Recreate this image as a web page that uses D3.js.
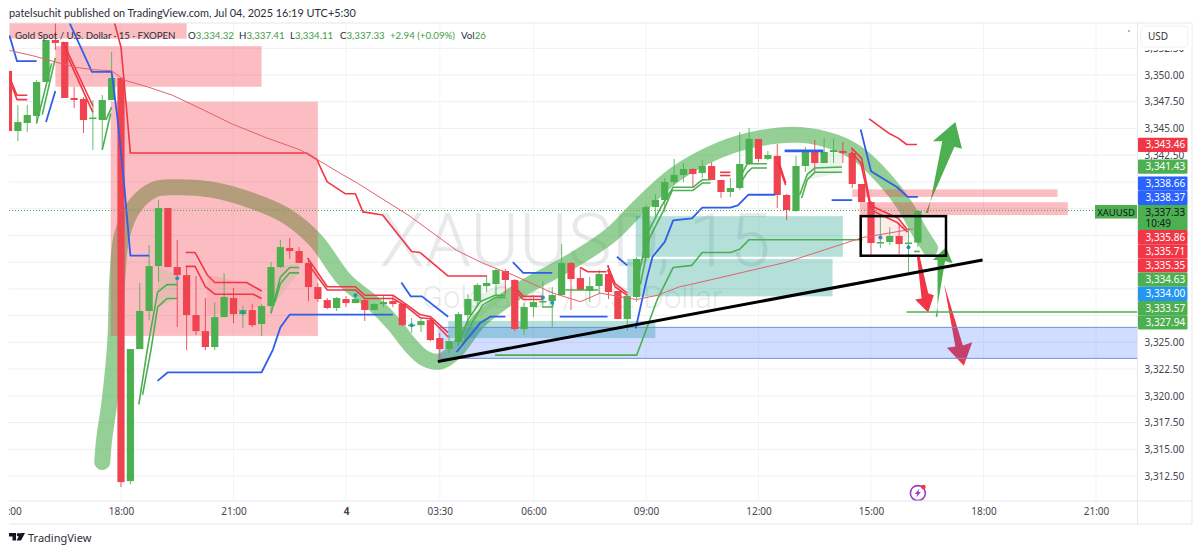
<!DOCTYPE html>
<html>
<head>
<meta charset="utf-8">
<script src="https://cdn.jsdelivr.net/npm/d3@7"></script>
<style>
  html, body { margin: 0; padding: 0; background: #fff; }
  svg { display: block; }
  text { font-family: "Noto Sans", sans-serif; }
</style>
</head>
<body>
<svg id="chart" width="1200" height="553"></svg>
<script>
// candles, bar -12 is the 15:00 bar of the day before, bar 0 is 18:00
const firstBar = -12;
const opens = [3350.38,3344.76,3345.51,3346.17,3349.35,3353.27,3353.09,3347.85,3347.76,3345.98,3345.79,3347.66,3349.72,3312.02,3324.37,3327.93,3332.13,3337.56,3332.04,3331.29,3327.55,3326.05,3324.56,3327.36,3329.14,3327.64,3328.02,3326.71,3328.39,3332.04,3333.82,3333.54,3332.42,3330.17,3328.95,3328.21,3329.05,3328.67,3328.95,3328.02,3328.58,3328.86,3328.58,3326.61,3326.61,3327.08,3325.4,3324.37,3325.03,3327.55,3328.86,3330.26,3330.45,3331.67,3330.83,3326.24,3328.3,3328.77,3328.86,3329.42,3332.42,3331.01,3329.8,3330.26,3331.39,3329.8,3327.18,3329.24,3332.88,3337.66,3338.31,3339.99,3340.65,3341.21,3340.84,3341.49,3340.18,3339.06,3339.43,3341.68,3344.02,3342.15,3342.43,3338.78,3337.28,3341.49,3342.8,3341.77,3342.8,3342.89,3342.7,3339.81,3338.12,3334.29,3334.38,3334.94,3334.29,3334.33];
const highs = [3350.38,3347.2,3347.2,3349.53,3353.27,3354.87,3353.09,3348.88,3347.94,3347.66,3348.13,3352.15,3349.72,3324.37,3330.55,3334.1,3338.31,3337.56,3334.57,3332.13,3331.2,3329.14,3328.77,3331.48,3330.08,3328.39,3328.58,3328.58,3332.51,3334.57,3334.76,3333.91,3332.88,3330.55,3329.14,3329.24,3329.33,3329.24,3329.14,3328.67,3329.42,3329.42,3328.67,3327.27,3327.36,3327.27,3325.87,3325.68,3327.83,3329.52,3330.55,3331.29,3331.95,3331.85,3330.92,3328.67,3329.42,3330.73,3330.17,3334.19,3332.51,3332.04,3331.11,3331.76,3332.23,3329.8,3329.52,3332.98,3337.84,3338.87,3340.37,3342.15,3341.77,3341.3,3342.05,3341.86,3340.18,3340.37,3344.67,3345.05,3344.02,3342.89,3343.55,3338.87,3342.43,3343.27,3343.92,3344.11,3344.02,3343.74,3343.17,3339.81,3338.21,3336.72,3335.78,3336.16,3335.69,3337.37];
const lows = [3344.76,3343.83,3344.67,3345.42,3349.35,3352.34,3347.85,3346.9,3344.58,3342.99,3342.99,3347.66,3311.46,3311.74,3324.37,3327.08,3330.64,3332.04,3326.43,3324.28,3325.68,3324.28,3324.28,3327.36,3326.8,3326.34,3326.43,3325.59,3327.74,3331.95,3332.79,3332.42,3328.86,3328.77,3328.11,3327.93,3328.3,3328.67,3326.99,3328.02,3328.3,3328.3,3326.52,3325.87,3325.96,3325.12,3323.53,3324.0,3324.93,3326.61,3328.3,3329.7,3329.42,3329.52,3326.05,3325.68,3327.36,3328.3,3326.43,3329.42,3328.02,3329.8,3328.77,3329.52,3329.05,3327.18,3326.05,3328.77,3332.88,3336.72,3337.19,3339.71,3339.99,3339.53,3340.37,3340.18,3338.5,3338.59,3339.25,3341.58,3341.86,3342.05,3337.56,3336.44,3337.19,3340.93,3340.84,3341.77,3341.77,3341.77,3339.43,3338.12,3333.16,3333.82,3334.1,3333.26,3331.57,3333.91];
const closes = [3344.76,3345.6,3346.26,3349.35,3353.27,3353.0,3347.85,3347.66,3345.79,3346.02,3347.66,3349.72,3311.93,3324.37,3327.93,3332.13,3337.56,3332.04,3331.29,3327.55,3326.05,3324.56,3327.36,3329.24,3327.64,3328.02,3326.61,3328.39,3332.04,3333.91,3333.54,3332.42,3330.17,3329.05,3328.21,3329.14,3328.67,3329.05,3328.02,3328.58,3328.77,3328.58,3326.61,3326.65,3326.99,3325.21,3324.37,3325.12,3327.64,3329.05,3330.36,3330.55,3331.76,3330.83,3326.24,3328.3,3328.77,3328.86,3329.42,3332.42,3330.92,3329.89,3330.26,3331.39,3329.7,3327.18,3329.33,3332.79,3337.66,3338.31,3339.99,3340.65,3341.21,3340.74,3341.49,3340.18,3339.06,3339.43,3341.68,3344.02,3342.15,3342.52,3338.78,3337.37,3341.49,3342.8,3341.77,3342.8,3342.98,3342.7,3339.81,3338.12,3334.29,3334.38,3334.94,3334.19,3334.33,3337.28];

const priceTicks = [3352.5,3350,3347.5,3345,3342.5,3340,3337.5,3335,3332.5,3330,3327.5,3325,3322.5,3320,3317.5,3315,3312.5];
// these tick labels sit behind the stack of price tags
const hiddenTicks = [3340,3337.5,3335,3332.5,3330,3327.5];
const timeTicks = [-12,0,12,24,34,44,56,68,80,92,104];
const timeLabels = ["15:00","18:00","21:00","4","03:30","06:00","09:00","12:00","15:00","18:00","21:00"];

// indicator lines as [bar, price]
const blueLines = [
  [[-11.9,3353.7],[-11.1,3351.3],[-9,3351.3]],
  [[-8,3345.6],[-7,3348.5]],
  [[-5.5,3354.9],[-3.1,3350.3],[-1,3350.3],[-.4,3346.1],[.2,3341.1],[1,3333.1],[3,3333.1]],
  [[3.9,3321.4],[5,3322.2],[15,3322.2],[16.2,3324.3],[17,3326.4],[18,3327.6],[29,3327.6]],
  [[29.9,3330.6],[30.9,3329.3],[32.1,3329.3],[34.9,3327.4]],
  [[35.8,3324.1],[38.3,3326.8],[39.4,3327.4],[41,3327.4]],
  [[41.8,3332.5],[42.9,3331.5],[46,3331.5]],
  [[46.8,3327.4],[51.9,3327.4]],
  [[52.9,3333],[54,3332.2]],
  [[54.9,3326.3],[56.1,3331],[56.7,3333],[58,3334.4],[58.9,3336.4],[60.9,3336.6],[62,3337.6],[65,3337.6],[65.8,3337.8],[66.9,3338.8],[69.8,3338.8]],
  [[70.8,3342.9],[74.9,3342.9]],
  [[75.8,3338.3],[78,3338.3]],
  [[78.9,3344.9],[80,3341],[82.8,3339.5],[83.9,3338.6],[85,3338.6]]
];
const redLines = [
  [[-11.9,3349.8],[-11.1,3348.1],[-10,3348.1]],
  [[-11.6,3348.9],[-11.1,3347.7],[-10,3347.7]],
  [[-6.2,3353.1],[-3,3347.1]],
  [[-5.8,3351.9],[-3,3346.5]],
  [[-.7,3354.9],[0,3352.6],[.3,3349.7],[1,3342.7],[19.8,3342.7],[20.9,3342.1],[21.4,3341.1],[22,3340],[23.9,3338.9],[25,3338.9],[25.8,3337.2],[27.9,3336.9],[31,3333.5],[31.9,3333.4],[34.9,3331.2],[39,3331.2]],
  [[6.9,3333.4],[7.9,3333.4],[9.2,3331.3],[10,3330.6],[13.4,3330.6],[15,3329.8]],
  [[6.9,3332.1],[7.9,3332.1],[9,3330.2],[10,3329.5],[14.1,3329.5],[15,3329.1]],
  [[19.9,3332.9],[22,3330.2],[25,3330.2],[26,3329.4],[29,3329.4],[30.5,3328.5],[31.9,3327.6],[33,3327.4],[34.9,3325.9]],
  [[19.9,3332.4],[22,3329.9],[25,3329.9],[26,3329.1],[29,3329.1],[30.5,3328.3],[31.9,3327.3],[33,3327.2],[34.9,3325.5]],
  [[42.3,3329.9],[42.9,3329.3],[45,3329.3]],
  [[42.3,3329.6],[42.9,3329],[45,3329]],
  [[49,3332],[49.8,3331.6],[51.8,3331.6]],
  [[51.9,3332.2],[52.7,3330.5],[54,3329.6]],
  [[51.9,3331.8],[52.7,3330.2],[54,3329.4]],
  [[63.9,3340.9],[65,3340.9]],
  [[63.9,3340.6],[65,3340.6]],
  [[70,3342.3],[70.9,3339.9]],
  [[70,3341.9],[70.9,3339.7]],
  [[77.9,3343.2],[79,3342.2],[79.9,3338.1],[80.4,3337.6],[82.9,3336.6],[83.9,3335.5]],
  [[77.9,3342.8],[78.9,3341.8],[79.9,3337.8],[80.4,3337.2],[82.8,3336.2],[83.9,3335.3]],
  [[79.8,3345.9],[82,3344.5],[82.9,3344.1],[83.8,3343.5],[84.9,3343.5]]
];
const greenLines = [
  [[-9,3345.5],[-7.4,3351.1]],
  [[-8.4,3346.3],[-7,3351.6]],
  [[-2,3343],[-1.1,3346.4]],
  [[-1.6,3345.8],[-1,3347]],
  [[1.9,3319.2],[2.8,3324.3],[3.9,3329.7],[4.9,3330.4],[6,3330.4]],
  [[2.3,3320.1],[3.2,3324.3],[3.9,3328.3],[4.9,3329.1],[6,3329.1]],
  [[16,3327.7],[17,3331.1],[18,3332],[19,3332]],
  [[16.4,3328.7],[17,3330.5],[18,3331.5],[19,3331.5]],
  [[35.9,3324.7],[37,3327.1],[38.3,3328.8],[39.9,3329.4],[41,3329.4]],
  [[36.4,3324.7],[37.4,3326.8],[38.6,3328.5],[39.9,3329.2],[41,3329.2]],
  [[47.4,3329.9],[50.9,3329.9]],
  [[44.9,3328.3],[46,3328.3],[46.1,3328.7]],
  [[55.4,3330.4],[56.4,3334.8],[57.8,3337.2],[58.8,3339.2],[61,3339.2],[62,3339.9],[62.9,3339.9]],
  [[55,3330.4],[56.2,3335.3],[57.7,3337.8],[58.9,3339.5],[61,3339.5],[62,3340.2],[62.9,3340.2]],
  [[65.8,3339.5],[66.8,3340.9],[67.3,3341.3],[68.9,3341.3]],
  [[66,3340.4],[66.8,3341.7],[68.9,3341.7]],
  [[72.4,3338.8],[73.2,3340.7],[74,3341.3],[76.9,3341.4]],
  [[72.6,3338.5],[73.2,3340.2],[74,3340.9],[76.9,3340.9]],
  [[84.6,3333.5],[85.2,3333.5]],
  [[39.9,3323.8],[55,3323.8],[55.9,3325.9],[57.2,3329],[58.9,3332],[60.9,3332.2],[62,3333.4],[65,3333.4],[66,3333.7],[67,3334.6],[79.1,3334.6]],
  [[83.8,3327.83],[108.4,3327.83]]
];
const thickLines = [10]; // the index of the short heavy blue line
const vwapLine = [[-11.9,3352.3],[-9.4,3351.8],[-6.5,3351.1],[-4.7,3350.7],[-3,3350.5],[-1,3350.4],[.4,3349.5],[2.8,3348.9],[5.5,3348.1],[8.4,3346.9],[11.9,3345.4],[15.6,3344.1],[19.1,3343],[20.9,3342.1],[23.4,3340.8],[25.2,3339.9],[30.8,3336.8],[35.8,3333.6],[38.6,3332.4],[41.8,3331.3],[46.1,3329.6],[49,3328.8],[51.1,3329.6],[55,3329],[57.2,3329.4],[59.6,3330.2],[60.7,3330.4],[71,3332.5],[79.1,3334.8],[84.5,3335.6]];
const signalDots = [[6,3331],[13,3327.8],[31,3326.6],[25,3329.4],[45,3329.2],[46,3328.7],[81,3334.8],[84,3333.9]];

// faint fill between the stop lines and the price, [bar, price a, price b]
const pinkTints = [
  [[79.9,3338.1,3334.3],[82.9,3336.6,3334.9],[83.9,3335.5,3334.3]],
  [[9.2,3331.3,3327.5],[13.4,3330.6,3328],[15,3329.8,3328.4]]
];
const greenTints = [
  [[3.9,3328.3,3332.1],[6,3329.1,3331.3]],
  [[73.2,3340.2,3342.8],[76.9,3340.9,3342.9]],
  [[37.4,3326.8,3329],[41,3329.2,3330.8]],
  [[16.4,3328.7,3332],[19,3331.5,3332.4]]
];

// zones as [bar from, bar to, price top, price bottom]
const pinkZones = [[-11.9,7,3354.9,3353.4],[-7,15,3352.7,3348.9],[-1.1,21,3347.5,3325.6],[78,99.9,3339.3,3338.6],[78.8,101,3338.1,3336.9]];
const tealZones = [[54.9,77,3336.8,3333],[54,75.9,3332.8,3329.3],[34.9,57,3327,3325.4]];
const blueZones = [[33.8,108.4,3326.4,3323.5]];

// hand drawn bits
const highlighter = [[-2,3313.8],[-1.8,3315.9],[-1.2,3319.6],[-.6,3325.2],[-.4,3330.8],[.1,3335],[1.5,3337.8],[3.6,3339.3],[5.8,3339.5],[9.5,3339.3],[13.8,3338.3],[17.5,3336.9],[20.7,3334.6],[23.9,3330.8],[27.1,3328.5],[29.2,3326.6],[30.8,3324.8],[32.4,3323.5],[34,3323.2],[35.6,3324.1],[38.3,3327.1],[42.6,3329.9],[47.9,3332.5],[52.2,3335],[55.4,3337.8],[59.1,3340.7],[63.9,3343],[68.2,3344.1],[72.4,3344.4],[76.2,3343.7],[78.8,3342.5],[81.5,3340.2],[83.6,3337.8],[85.2,3335.3],[86.3,3333.8]];
const arrowUpBig = [[85.8,3337.1],[86.1,3337.1],[87.6,3343.8],[86.6,3343.8],[89,3345.6],[89.7,3343.1],[88.9,3343.3]];
const arrowUpSmall = [[86.9,3327.4],[87.1,3327.4],[87.1,3332.7],[86.6,3332.7],[88,3333.9],[88.7,3332.4],[87.9,3332.6]];
const arrowDownSmall = [[84.9,3333],[85.2,3333],[86.1,3329.6],[86.7,3329.4],[86.1,3327.8],[84.7,3329],[85.4,3329.1]];
const arrowDownBig = [[87.8,3330.4],[89,3324.6],[88.1,3324.5],[89.9,3322.8],[90.8,3325],[89.8,3324.7]];
const trendLine = [[33.8,3323.2],[91.9,3332.7]];
const boxBars = [78.9,88];
const boxPrices = [3336.8,3333.1];

// right hand price tags
const lastPrice = 3337.33;
const tagValues = [3343.46,3341.43,3338.66,3338.37,3335.86,3335.71,3335.35,3334.63,3334.00,3333.57,3327.94];
const tagKinds = ["red","green","blue","blue","red","red","red","green","sky","green","green"];

const legendName = "Gold Spot / U.S. Dollar · 15 · FXOPEN";
const legendKeys = ["O","H","L","C"];
const legendVals = ["3,334.32","3,337.41","3,334.11","3,337.33"];

const GREEN = "#4caf50", RED = "#f23645";
const tagColor = {red: "#f23645", green: "#4caf50", blue: "#2962ff", sky: "#2196f3"};

const svg = d3.select("#chart");
const plotL = 9, plotR = 1137, plotT = 23, plotB = 501;

const x = d3.scaleLinear().domain([-12, 108]).range([8.5, 1133.5]);
const y = d3.scaleLinear().domain([3350, 3312.5]).range([75, 476]);
const fmt = d3.format(",.2f");

svg.append("defs").append("clipPath").attr("id", "plot")
  .append("rect").attr("x", plotL).attr("y", plotT).attr("width", plotR - plotL).attr("height", plotB - plotT);

const plot = svg.append("g").attr("clip-path", "url(#plot)");

// grid
plot.selectAll(".hgrid").data(priceTicks).join("line")
  .attr("x1", plotL).attr("x2", plotR).attr("y1", d => y(d)).attr("y2", d => y(d))
  .attr("stroke", "#eeeff2");
plot.selectAll(".vgrid").data(timeTicks).join("line")
  .attr("y1", plotT).attr("y2", plotB).attr("x1", d => x(d)).attr("x2", d => x(d))
  .attr("stroke", "#f3f4f6");

// watermark
plot.append("text").attr("x", 575).attr("y", 266).attr("text-anchor", "middle")
  .attr("font-size", 74).style("font-family", "Roboto").attr("font-weight", 300)
  .attr("fill", "#787b86").attr("fill-opacity", 0.17).text("XAUUSD, 15");
plot.append("text").attr("x", 572).attr("y", 308).attr("text-anchor", "middle")
  .attr("font-size", 31).style("font-family", "Roboto").attr("font-weight", 300)
  .attr("fill", "#787b86").attr("fill-opacity", 0.17).text("Gold Spot / U.S. Dollar");

const line = d3.line().x(d => x(d[0])).y(d => y(d[1]));

// these sit under the zones, the colours mix like in the original
const smooth = d3.line().x(d => x(d[0])).y(d => y(d[1])).curve(d3.curveCatmullRom);
plot.append("path").attr("d", smooth(highlighter))
  .attr("fill", "none").attr("stroke", GREEN).attr("stroke-opacity", 0.6)
  .attr("stroke-width", 16).attr("stroke-linecap", "round").attr("stroke-linejoin", "round");

const poly = pts => "M" + pts.map(d => x(d[0]) + "," + y(d[1])).join("L") + "Z";
plot.selectAll(".arrow").data([arrowUpBig, arrowUpSmall]).join("path")
  .attr("d", poly).attr("fill", GREEN);
plot.selectAll(".arrow2").data([arrowDownSmall, arrowDownBig]).join("path")
  .attr("d", poly).attr("fill", RED);

function drawZones(rows, color, alpha) {
  plot.append("g").selectAll("rect").data(rows).join("rect")
    .attr("x", d => x(d[0])).attr("width", d => x(d[1]) - x(d[0]))
    .attr("y", d => y(d[2])).attr("height", d => y(d[3]) - y(d[2]))
    .attr("fill", color).attr("fill-opacity", alpha);
}
drawZones(tealZones, "#089981", 0.3);
drawZones(blueZones, "#2962ff", 0.22);
drawZones(pinkZones, "#f23645", 0.33);

plot.append("g").selectAll("line").data(blueZones.flatMap(d => [[d[0], d[1], d[2]], [d[0], d[1], d[3]]])).join("line")
  .attr("x1", d => x(d[0])).attr("x2", d => x(d[1])).attr("y1", d => y(d[2])).attr("y2", d => y(d[2]))
  .attr("stroke", "#6f90dc").attr("stroke-width", 1);

const tint = d3.area().x(d => x(d[0])).y0(d => y(d[1])).y1(d => y(d[2]));
plot.append("g").selectAll("path").data(pinkTints).join("path")
  .attr("d", d => tint(d)).attr("fill", RED).attr("fill-opacity", 0.1);
plot.append("g").selectAll("path").data(greenTints).join("path")
  .attr("d", d => tint(d)).attr("fill", GREEN).attr("fill-opacity", 0.12);

// candles
const bars = opens.map((o, i) => ({bar: firstBar + i, o, h: highs[i], l: lows[i], c: closes[i]}));
const candle = plot.append("g").selectAll("g").data(bars).join("g");
candle.append("line")
  .attr("x1", d => x(d.bar)).attr("x2", d => x(d.bar))
  .attr("y1", d => y(d.h)).attr("y2", d => y(d.l))
  .attr("stroke", d => d.c >= d.o ? GREEN : RED).attr("stroke-width", 1).attr("stroke-opacity", 0.85);
candle.append("rect")
  .attr("x", d => x(d.bar) - 3.6).attr("width", 7.2)
  .attr("y", d => y(Math.max(d.o, d.c)))
  .attr("height", d => Math.max(1.5, Math.abs(y(d.o) - y(d.c))))
  .attr("fill", d => d.c >= d.o ? GREEN : "#ef4350");

// indicators
function drawLines(rows, color, w) {
  plot.append("g").selectAll("path").data(rows).join("path")
    .attr("d", d => line(d)).attr("fill", "none").attr("stroke", color).attr("stroke-width", w)
    .attr("stroke-linejoin", "round");
}
drawLines(greenLines, GREEN, 1.6);
drawLines(redLines, "#f23645", 1.6);
drawLines(blueLines, "#2f5fe8", 1.8);
drawLines(thickLines.map(i => blueLines[i]), "#2f5fe8", 2.6);
drawLines([vwapLine], "#e4606d", 1);
plot.append("g").selectAll("circle").data(signalDots).join("circle")
  .attr("cx", d => x(d[0])).attr("cy", d => y(d[1])).attr("r", 2).attr("fill", "#2a8fc0");

// last price dotted line
plot.append("line").attr("x1", plotL).attr("x2", 1095)
  .attr("y1", y(lastPrice)).attr("y2", y(lastPrice))
  .attr("stroke", GREEN).attr("stroke-dasharray", "1 2").attr("stroke-width", 1);

// trend line and the box
plot.append("path").attr("d", line(trendLine)).attr("stroke", "#000").attr("stroke-width", 3).attr("fill", "none");
plot.append("rect")
  .attr("x", x(boxBars[0])).attr("width", x(boxBars[1]) - x(boxBars[0]))
  .attr("y", y(boxPrices[0])).attr("height", y(boxPrices[1]) - y(boxPrices[0]))
  .attr("fill", "none").attr("stroke", "#000").attr("stroke-width", 2.5);

// lightning mark
const mark = plot.append("g").attr("transform", `translate(${x(85)},${y(3310.9)})`);
mark.append("circle").attr("r", 7.5).attr("fill", "#fff").attr("stroke", "#9c3fc0").attr("stroke-width", 1.6);
mark.append("path").attr("d", "M1.5,-4.5L-3,1L-0.5,1L-1.5,4.5L3,-1L0.5,-1Z").attr("fill", "#9c3fc0");
mark.append("circle").attr("cx", 5.5).attr("cy", -6).attr("r", 2.3).attr("fill", "#f23645");

// frame
const frame = svg.append("g").attr("stroke", "#e6e7ea").attr("fill", "none");
frame.append("line").attr("x1", plotL).attr("x2", 1192).attr("y1", plotT).attr("y2", plotT);
frame.append("line").attr("x1", plotL).attr("x2", 1192).attr("y1", plotB).attr("y2", plotB);
frame.append("line").attr("x1", plotL).attr("x2", 1192).attr("y1", 524).attr("y2", 524);
frame.append("line").attr("x1", plotR + .5).attr("x2", plotR + .5).attr("y1", plotT).attr("y2", 524);
frame.append("line").attr("x1", 1192).attr("x2", 1192).attr("y1", plotT).attr("y2", 524);

// axes
const yAxis = d3.axisRight(y).tickValues(priceTicks.filter(d => !hiddenTicks.includes(d)))
  .tickFormat(fmt).tickSize(0).tickPadding(7);
const yg = svg.append("g").attr("transform", `translate(${plotR + .5},0)`).call(yAxis);
yg.select(".domain").remove();
yg.selectAll("text").attr("font-size", 10).attr("fill", "#434651").style("font-family", "Noto Sans");

const xAxis = d3.axisBottom(x).tickValues(timeTicks)
  .tickFormat(d => timeLabels[timeTicks.indexOf(d)]).tickSize(0).tickPadding(7);
svg.append("clipPath").attr("id", "timeclip").append("rect")
  .attr("x", plotL).attr("y", plotB).attr("width", plotR - plotL).attr("height", 24);
const xg = svg.append("g").attr("clip-path", "url(#timeclip)").append("g").attr("transform", `translate(0,${plotB})`).call(xAxis);
xg.select(".domain").remove();
xg.selectAll("text").attr("font-size", 10).attr("fill", "#434651")
  .attr("font-weight", d => d === 24 ? 700 : 400).style("font-family", "Noto Sans");

// price tags, pushed apart around the last price tag
const tagH = 14.2, lastTop = 205, lastH = 25;
const above = tagValues.map((v, i) => ({v, kind: tagKinds[i]})).filter(d => d.v > lastPrice).reverse();
const below = tagValues.map((v, i) => ({v, kind: tagKinds[i]})).filter(d => d.v < lastPrice);
let edge = lastTop;
above.forEach(d => { d.top = Math.min(y(d.v) + tagH / 2, edge) - tagH; edge = d.top; });
edge = lastTop + lastH;
below.forEach(d => { d.top = Math.max(y(d.v) - tagH / 2, edge); edge = d.top + tagH; });

const tags = svg.append("g").selectAll("g").data(above.concat(below)).join("g")
  .attr("transform", d => `translate(${plotR + 1},${d.top})`);
tags.append("rect").attr("width", 49.5).attr("height", tagH).attr("rx", 1).attr("fill", d => tagColor[d.kind]);
tags.append("text").attr("x", 7.5).attr("y", 10.6).attr("font-size", 10).attr("fill", "#fff").text(d => fmt(d.v));

svg.append("rect").attr("x", plotR + 1).attr("y", lastTop).attr("width", 49.5).attr("height", lastH).attr("fill", GREEN);
svg.append("text").attr("x", plotR + 8.5).attr("y", lastTop + 10.6).attr("font-size", 10).attr("fill", "#131722").text(fmt(lastPrice));
svg.append("text").attr("x", plotR + 8.5).attr("y", lastTop + 22).attr("font-size", 10).attr("fill", "#131722").text("10:49");
svg.append("rect").attr("x", 1095).attr("y", 205).attr("width", 42).attr("height", 13.5).attr("fill", GREEN);
svg.append("text").attr("x", 1116).attr("y", 215.6).attr("text-anchor", "middle").attr("font-size", 9.5).attr("fill", "#131722").text("XAUUSD");

// currency box
svg.append("rect").attr("x", 1138.5).attr("y", 24).attr("width", 53).attr("height", 26).attr("fill", "#fff");
svg.append("rect").attr("x", 1141).attr("y", 26).attr("width", 47).attr("height", 21).attr("rx", 4).attr("fill", "#fff").attr("stroke", "#f0f1f3");
svg.append("text").attr("x", 1148).attr("y", 40).attr("font-size", 10).attr("fill", "#333").text("USD");
svg.append("circle").attr("cx", 1129).attr("cy", 31).attr("r", .7).attr("fill", "#333");

// header
svg.append("text").attr("x", 9).attr("y", 17).attr("font-size", 10.9).style("font-family", "Lato").attr("fill", "#2a2e39")
  .text("patelsuchit published on TradingView.com, Jul 04, 2025 16:19 UTC+5:30");

const legend = svg.append("g").attr("font-size", 9.7);
legend.append("text").attr("x", 15).attr("y", 39).style("font-family", "Lato").attr("fill", "#2a2e39").text(legendName);
const legendX = [188, 239, 290, 340];
legendKeys.forEach((k, i) => {
  const t = legend.append("text").attr("x", legendX[i]).attr("y", 39).style("font-family", "Lato").attr("fill", "#2a2e39");
  t.append("tspan").text(k);
  t.append("tspan").attr("fill", "#3f9a47").text(legendVals[i]);
});
legend.append("text").attr("x", 390).attr("y", 39).style("font-family", "Lato").attr("fill", "#3f9a47").text("+2.94 (+0.09%)");
const vol = legend.append("text").attr("x", 461).attr("y", 39).style("font-family", "Lato").attr("fill", "#2a2e39");
vol.append("tspan").text("Vol");
vol.append("tspan").attr("fill", "#3f9a47").text("26");

// footer logo
const logo = svg.append("g").attr("transform", "translate(9,533)").attr("fill", "#131722");
logo.append("path").attr("d", "M0,0H7V7.5H3.5V3.5H0Z");
logo.append("circle").attr("cx", 9.5).attr("cy", 1.8).attr("r", 1.8);
logo.append("path").attr("d", "M11.5,0H16L12,7.5H7.5Z");
svg.append("text").attr("x", 28).attr("y", 542).attr("font-size", 11).attr("fill", "#2a2e39").text("TradingView");
</script>
</body>
</html>
